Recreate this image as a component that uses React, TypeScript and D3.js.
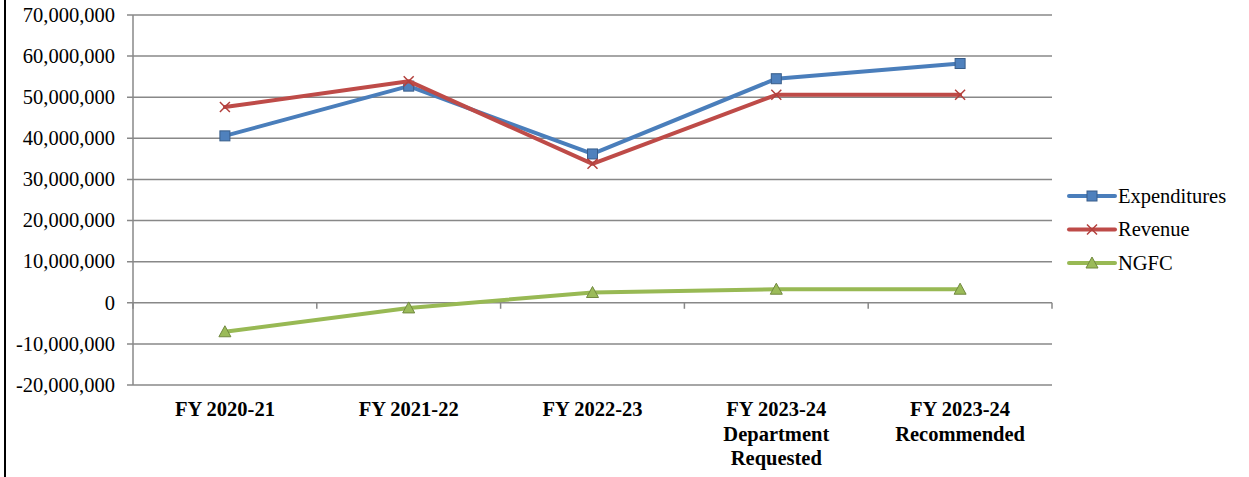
import React from "react";
import * as d3 from "d3";

const categories = [
  ["FY 2020-21"],
  ["FY 2021-22"],
  ["FY 2022-23"],
  ["FY 2023-24", "Department", "Requested"],
  ["FY 2023-24", "Recommended"],
];
const expenditures = [40600000, 52700000, 36200000, 54500000, 58200000];
const revenue = [47600000, 53900000, 33800000, 50600000, 50600000];
const ngfc = [-7050000, -1250000, 2500000, 3300000, 3300000];
const yTicks = [-20000000, -10000000, 0, 10000000, 20000000, 30000000, 40000000, 50000000, 60000000, 70000000];

const seriesList = [
  { name: "Expenditures", values: expenditures, color: "#4a7ebb", marker: "square" },
  { name: "Revenue", values: revenue, color: "#be4b48", marker: "x" },
  { name: "NGFC", values: ngfc, color: "#98b954", marker: "triangle" },
];

const W = 1249;
const H = 477;
const plotL = 133;
const plotR = 1052;
const plotT = 15;
const plotB = 385;
const FONT = "Liberation Serif";

function Marker({ type, x, y }: { type: string; x: number; y: number }) {
  if (type === "square") {
    return <rect x={x - 5} y={y - 5} width={10} height={10} fill="#4f81bd" stroke="#385d8a" strokeWidth={1} />;
  }
  if (type === "x") {
    return (
      <path d={`M${x - 5},${y - 5}L${x + 5},${y + 5}M${x - 5},${y + 5}L${x + 5},${y - 5}`} stroke="#b3403d" strokeWidth={1.5} fill="none" />
    );
  }
  return <path d={`M${x},${y - 6}L${x + 6},${y + 5}L${x - 6},${y + 5}Z`} fill="#9bbb59" stroke="#71893f" strokeWidth={1} />;
}

export default function App() {
  const x = d3.scaleBand<number>().domain(d3.range(categories.length)).range([plotL, plotR]);
  const y = d3.scaleLinear().domain([-20000000, 70000000]).range([plotB, plotT]);
  const fmt = (v: number) => d3.format(",")(v).replace("\u2212", "-");
  const line = d3
    .line<number>()
    .x((_, i) => (x(i) as number) + x.bandwidth() / 2)
    .y((d) => y(d));
  const boundaries = d3.range(categories.length + 1).map((i) => plotL + i * x.step());
  const txt = { fontFamily: FONT, fontSize: "20.5px" };

  return (
    <svg width={W} height={H} style={{ position: "absolute", left: 0, top: 0, background: "#fff" }}>
      <rect x={0} y={0} width={W} height={H} fill="#fff" />
      <line x1={5} x2={5} y1={0} y2={H} stroke="#000" strokeWidth={2} />
      {yTicks.map((t) => (
        <g key={t}>
          <line x1={plotL - 6} x2={plotR} y1={y(t)} y2={y(t)} stroke="#888" strokeWidth={1.5} />
          <text x={115} y={y(t)} dy="0.33em" textAnchor="end" style={txt} fill="#000">
            {fmt(t)}
          </text>
        </g>
      ))}
      <line x1={plotL} x2={plotL} y1={plotT} y2={plotB} stroke="#888" strokeWidth={1.5} />
      {boundaries.map((b, i) => (
        <line key={i} x1={b} x2={b} y1={y(0)} y2={y(0) + 6} stroke="#888" strokeWidth={1.5} />
      ))}
      {categories.map((lines, i) => (
        <text key={i} textAnchor="middle" style={{ ...txt, fontWeight: "bold" }} fill="#000">
          {lines.map((l, j) => (
            <tspan key={j} x={(x(i) as number) + x.bandwidth() / 2} y={416 + j * 24.5}>
              {l}
            </tspan>
          ))}
        </text>
      ))}
      {seriesList.map((s) => (
        <g key={s.name}>
          <path d={line(s.values) || ""} fill="none" stroke={s.color} strokeWidth={4} strokeLinejoin="round" strokeLinecap="round" />
          {s.values.map((v, i) => (
            <Marker key={i} type={s.marker} x={(x(i) as number) + x.bandwidth() / 2} y={y(v)} />
          ))}
        </g>
      ))}
      {seriesList.map((s, i) => {
        const ly = 196 + i * 33.5;
        return (
          <g key={s.name}>
            <line x1={1069} x2={1115} y1={ly} y2={ly} stroke={s.color} strokeWidth={4} strokeLinecap="round" />
            <Marker type={s.marker} x={1092} y={ly} />
            <text x={1118} y={ly} dy="0.33em" style={txt} fill="#000">
              {s.name}
            </text>
          </g>
        );
      })}
    </svg>
  );
}
